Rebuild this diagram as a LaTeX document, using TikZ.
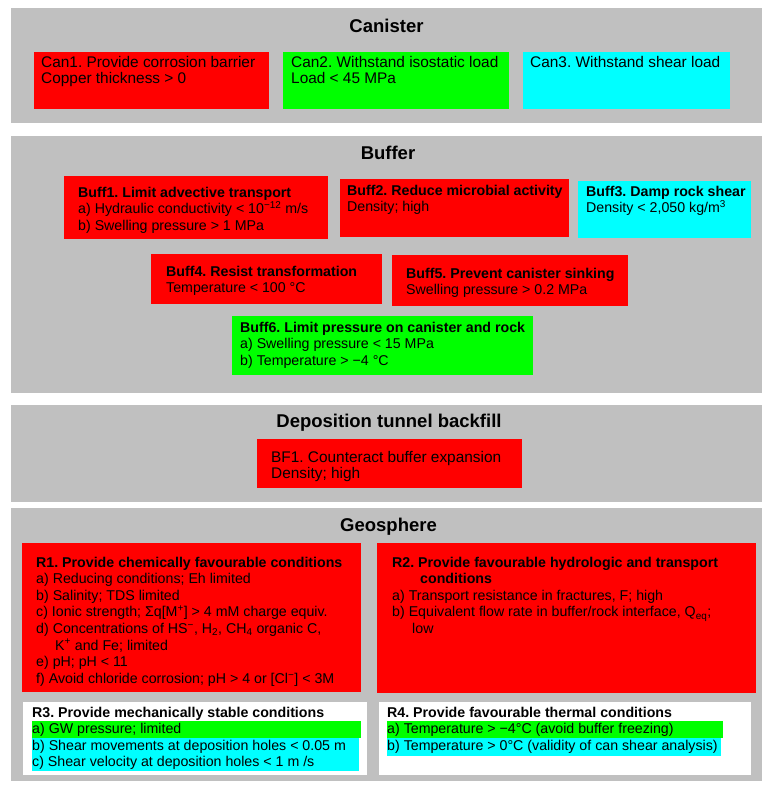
\documentclass[tikz,border=0pt]{standalone}
\usepackage{fontspec}
\setmainfont{Liberation Sans}
\definecolor{PanelGrey}{HTML}{C0C0C0}
\definecolor{ReqRed}{HTML}{FF0000}
\definecolor{ReqGreen}{HTML}{00FF00}
\definecolor{ReqCyan}{HTML}{00FFFF}
\usetikzlibrary{positioning}
\newcommand{\reqfont}{\fontsize{14.2}{16.6}\selectfont}
\newcommand{\canfont}{\fontsize{15.4}{16}\selectfont}
\frenchspacing

\begin{document}
\begin{tikzpicture}[x=1pt,y=-1pt,
panel/.style={fill=PanelGrey,draw=none},
title/.style={inner sep=0pt,font=\fontsize{18.5}{22}\selectfont\bfseries},
box/.style 2 args={anchor=north west,inner sep=0pt,draw=none,minimum width=#1,minimum height=#2},
redbox/.style 2 args={box={#1}{#2},fill=ReqRed},
greenbox/.style 2 args={box={#1}{#2},fill=ReqGreen},
cyanbox/.style 2 args={box={#1}{#2},fill=ReqCyan},
whitebox/.style 2 args={box={#1}{#2},fill=white},
txt/.style={inner sep=0pt,align=left,font=\reqfont},
cantxt/.style={txt,font=\canfont}
]
\useasboundingbox (0,0) rectangle (763,785);

% panels
\fill[panel] (11,8) rectangle (762,123);
\fill[panel] (11,136) rectangle (762,393);
\fill[panel] (11,405) rectangle (762,502);
\fill[panel] (11,508) rectangle (762,781);

\node[title] (tcan) at (386.5,26) {Canister};
\node[title] (tbuff) at (388,153) {Buffer};
\node[title] (tbf) at (389,423) {Deposition tunnel backfill};
\node[title] (tgeo) at (388.5,527) {Geosphere};

% canister
\node[redbox={235}{57}] (can1) at (34,52) {};
\node[greenbox={226}{57}] (can2) at (283,52) {};
\node[cyanbox={207}{57}] (can3) at (523,52) {};
\node[cantxt,below right=4.4pt and 7pt of can1.north west] (can1txt) {Can1. Provide corrosion barrier\\Copper thickness > 0};
\node[cantxt,below right=4.4pt and 8pt of can2.north west] (can2txt) {Can2. Withstand isostatic load\\Load < 45 MPa};
\node[cantxt,below right=4.4pt and 7pt of can3.north west] (can3txt) {Can3. Withstand shear load};

% buffer
\node[redbox={264}{63}] (buff1) at (64,176) {};
\node[redbox={229}{58}] (buff2) at (340,179) {};
\node[cyanbox={173}{57}] (buff3) at (578,181) {};
\node[redbox={231}{50}] (buff4) at (151,254) {};
\node[redbox={236}{51}] (buff5) at (392,255) {};
\node[greenbox={301}{59}] (buff6) at (232,316) {};
\node[txt,below right=10.7pt and 14pt of buff1.north west] (buff1txt) {\textbf{Buff1. Limit advective transport}\\a) Hydraulic conductivity < 10\textsuperscript{−12} m/s\\b) Swelling pressure > 1 MPa};
\node[txt,below right=5.7pt and 7pt of buff2.north west] (buff2txt) {\textbf{Buff2. Reduce microbial activity}\\Density; high};
\node[txt,below right=4.7pt and 8pt of buff3.north west] (buff3txt) {\textbf{Buff3. Damp rock shear}\\Density < 2,050 kg/m\textsuperscript{3}};
\node[txt,below right=11.7pt and 15pt of buff4.north west] (buff4txt) {\textbf{Buff4. Resist transformation}\\Temperature < 100 °C};
\node[txt,below right=12.7pt and 14pt of buff5.north west] (buff5txt) {\textbf{Buff5. Prevent canister sinking}\\Swelling pressure > 0.2 MPa};
\node[txt,below right=5.7pt and 8pt of buff6.north west] (buff6txt) {\textbf{Buff6. Limit pressure on canister and rock}\\a) Swelling pressure < 15 MPa\\b) Temperature > −4 °C};

% backfill
\node[redbox={265}{49}] (bf1) at (257,439) {};
\node[cantxt,below right=12.3pt and 14pt of bf1.north west] (bf1txt) {BF1. Counteract buffer expansion\\Density; high};

% geosphere
\node[redbox={339}{149}] (r1) at (22,543) {};
\node[redbox={379}{150}] (r2) at (377,543) {};
\node[whitebox={344}{73}] (r3) at (23,702) {};
\node[whitebox={372}{73}] (r4) at (379,702) {};
\node[greenbox={329}{17}] (r3a) at (32,721) {};
\node[cyanbox={327}{33}] (r3bc) at (32,738) {};
\node[greenbox={336}{17}] (r4a) at (387,721) {};
\node[cyanbox={334}{18}] (r4b) at (387,738) {};
\node[txt,below right=13.7pt and 14pt of r1.north west] (r1txt) {\textbf{R1. Provide chemically favourable conditions}\\a) Reducing conditions; Eh limited\\b) Salinity; TDS limited\\c) Ionic strength; Σq[M\textsuperscript{+}] > 4 mM charge equiv.\\d) Concentrations of HS\textsuperscript{−}, H\textsubscript{2}, CH\textsubscript{4} organic C,\\\hspace*{19pt}K\textsuperscript{+} and Fe; limited\\e) pH; pH < 11\\f) Avoid chloride corrosion; pH > 4 or [Cl\textsuperscript{−}] < 3M};
\node[txt,below right=13.7pt and 15pt of r2.north west] (r2txt) {\textbf{R2. Provide favourable hydrologic and transport}\\\hspace*{28pt}\textbf{conditions}\\a) Transport resistance in fractures, F; high\\b) Equivalent flow rate in buffer/rock interface, Q\textsubscript{eq};\\\hspace*{20pt}low};
\node[txt,below right=4.7pt and 9pt of r3.north west] (r3txt) {\textbf{R3. Provide mechanically stable conditions}\\a) GW pressure; limited\\b) Shear movements at deposition holes < 0.05 m\\c) Shear velocity at deposition holes < 1 m /s};
\node[txt,below right=4.7pt and 8pt of r4.north west] (r4txt) {\textbf{R4. Provide favourable thermal conditions}\\a) Temperature > −4°C (avoid buffer freezing)\\b) Temperature > 0°C (validity of can shear analysis)};
\end{tikzpicture}
\end{document}
